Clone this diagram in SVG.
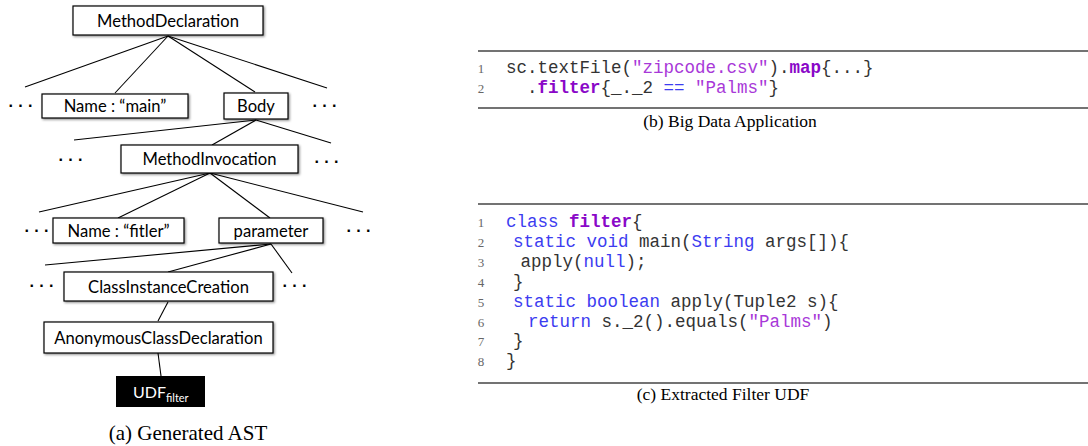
<svg xmlns="http://www.w3.org/2000/svg" width="1088" height="446" viewBox="0 0 1088 446">
<defs>
<filter id="sh" x="-10%" y="-20%" width="130%" height="150%">
<feDropShadow dx="1.2" dy="1.2" stdDeviation="0.8" flood-color="#000" flood-opacity="0.45"/>
</filter>
</defs>
<style>
.box{fill:#fff;stroke:#000;stroke-width:1.2;filter:url(#sh)}
.lbl{font-family:Lato,"Open Sans",sans-serif;font-size:16.6px;fill:#000;text-anchor:middle}
.dots{font-family:"Liberation Sans",sans-serif;font-size:16px;font-weight:bold;fill:#000;text-anchor:middle}
.edge{stroke:#000;stroke-width:1.1;fill:none}
.code{font-family:"Liberation Mono",monospace;font-size:17.5px;fill:#333}
.ln{font-family:"Liberation Serif",serif;font-size:13px;fill:#666;text-anchor:middle}
.kw{fill:#3c3cf0}
.str{fill:#a838d8}
.bd{fill:#8a08c8;font-weight:bold}
.rule{stroke:#444;stroke-width:1.3}
.cap{font-family:"Liberation Serif",serif;fill:#000;text-anchor:middle}
</style>

<g id="connectors">
<line class="edge" x1="168" y1="36" x2="25" y2="87"/>
<line class="edge" x1="168" y1="36" x2="115" y2="93"/>
<line class="edge" x1="168" y1="36" x2="255" y2="92"/>
<line class="edge" x1="168" y1="36" x2="327" y2="88"/>
<line class="edge" x1="256" y1="120" x2="74" y2="140"/>
<line class="edge" x1="256" y1="120" x2="212" y2="145"/>
<line class="edge" x1="256" y1="120" x2="331" y2="143"/>
<line class="edge" x1="210" y1="173" x2="39" y2="212"/>
<line class="edge" x1="210" y1="173" x2="118" y2="218"/>
<line class="edge" x1="210" y1="173" x2="270" y2="218"/>
<line class="edge" x1="210" y1="173" x2="363" y2="212"/>
<line class="edge" x1="271" y1="244" x2="45" y2="265"/>
<line class="edge" x1="271" y1="244" x2="168" y2="272"/>
<line class="edge" x1="271" y1="244" x2="292" y2="273"/>
<line class="edge" x1="168" y1="302" x2="158" y2="321"/>
<line class="edge" x1="158" y1="353" x2="161" y2="376"/>
</g>

<g id="n-methoddecl"><rect class="box" x="73" y="6" width="190" height="29"/><text class="lbl" x="168" y="27">MethodDeclaration</text></g>
<g id="n-name-main"><rect class="box" x="42" y="94" width="146" height="24"/><text class="lbl" x="115" y="112">Name : “main”</text></g>
<g id="n-body"><rect class="box" x="224" y="93" width="64" height="26"/><text class="lbl" x="256" y="112">Body</text></g>
<g id="n-methodinv"><rect class="box" x="121" y="145" width="177" height="28"/><text class="lbl" x="209.5" y="165">MethodInvocation</text></g>
<g id="n-name-fitler"><rect class="box" x="53" y="218" width="131" height="25"/><text class="lbl" x="118.5" y="236.5">Name : “fitler”</text></g>
<g id="n-parameter"><rect class="box" x="219" y="218" width="104" height="25"/><text class="lbl" x="271" y="236.5">parameter</text></g>
<g id="n-cic"><rect class="box" x="64" y="272" width="209" height="29"/><text class="lbl" x="168.5" y="292.5">ClassInstanceCreation</text></g>
<g id="n-acd"><rect class="box" x="44" y="322" width="229" height="31"/><text class="lbl" x="158.5" y="343.5">AnonymousClassDeclaration</text></g>
<g id="n-udf"><rect x="116" y="376" width="89" height="31" fill="#000"/><text x="133" y="398" font-family="Lato,'Open Sans',sans-serif" font-size="16px" fill="#fff">UDF<tspan font-size="11px" dy="4">filter</tspan></text></g>

<g id="ellipses">
<text class="dots" x="21" y="111">· · ·</text>
<text class="dots" x="325" y="111">· · ·</text>
<text class="dots" x="71" y="165">· · ·</text>
<text class="dots" x="327" y="167">· · ·</text>
<text class="dots" x="37" y="236">· · ·</text>
<text class="dots" x="359" y="236">· · ·</text>
<text class="dots" x="42" y="291">· · ·</text>
<text class="dots" x="295" y="291">· · ·</text>
</g>

<text class="cap" x="188" y="440" font-size="21px">(a) Generated AST</text>

<g id="panel-b">
<line class="rule" x1="478" y1="51" x2="1088" y2="51"/>
<line class="rule" x1="478" y1="108" x2="1088" y2="108"/>
<text class="ln" x="481" y="73">1</text>
<text class="ln" x="481" y="93">2</text>
<text class="code" x="506" y="73">sc.textFile(<tspan class="str">"zipcode.csv"</tspan>).<tspan class="bd">map</tspan>{...}</text>
<text class="code" x="527" y="93">.<tspan class="bd">filter</tspan>{_._2 <tspan class="kw">==</tspan> <tspan class="str">"Palms"</tspan>}</text>
<text class="cap" x="730" y="127" font-size="17.5px">(b) Big Data Application</text>
</g>

<g id="panel-c">
<line class="rule" x1="478" y1="204" x2="1088" y2="204"/>
<line class="rule" x1="478" y1="383" x2="1088" y2="383"/>
<text class="ln" x="481" y="227">1</text>
<text class="ln" x="481" y="246.9">2</text>
<text class="ln" x="481" y="266.8">3</text>
<text class="ln" x="481" y="286.7">4</text>
<text class="ln" x="481" y="306.6">5</text>
<text class="ln" x="481" y="326.5">6</text>
<text class="ln" x="481" y="346.4">7</text>
<text class="ln" x="481" y="366.3">8</text>
<text class="code" x="506" y="227"><tspan class="kw">class</tspan> <tspan class="bd">filter</tspan>{</text>
<text class="code" x="513" y="246.9"><tspan class="kw">static void</tspan> main(<tspan class="kw">String</tspan> args[]){</text>
<text class="code" x="520.5" y="266.8">apply(<tspan class="kw">null</tspan>);</text>
<text class="code" x="513" y="286.7">}</text>
<text class="code" x="513" y="306.6"><tspan class="kw">static boolean</tspan> apply(Tuple2 s){</text>
<text class="code" x="528" y="326.5"><tspan class="kw">return</tspan> s._2().equals(<tspan class="str">"Palms"</tspan>)</text>
<text class="code" x="513" y="346.4">}</text>
<text class="code" x="506" y="366.3">}</text>
<text class="cap" x="723" y="400" font-size="17.5px">(c) Extracted Filter UDF</text>
</g>
</svg>
